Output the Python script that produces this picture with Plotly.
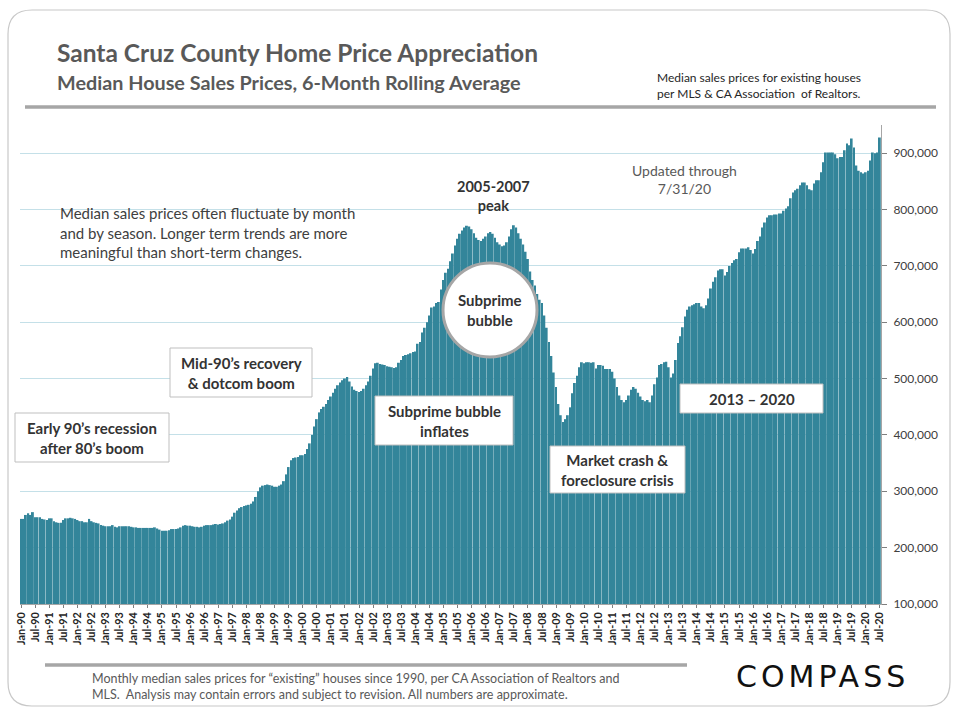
import plotly.graph_objects as go

# ---------------- data (monthly median, 6-month rolling average, USD thousands) ----------------
prices_1990s = [
    251, 251, 258, 261, 258, 263, 254, 254, 254, 251, 250, 249,   # 1990
    252, 252, 247, 245, 244, 244, 249, 252, 252, 253, 252, 251,   # 1991
    249, 247, 247, 245, 245, 251, 247, 245, 244, 243, 240, 239,   # 1992
    238, 238, 238, 240, 237, 236, 238, 238, 238, 238, 238, 237,   # 1993
    236, 236, 235, 235, 235, 235, 235, 235, 235, 236, 234, 232,   # 1994
    230, 230, 230, 231, 233, 233, 233, 234, 236, 239, 240, 239,   # 1995
    239, 238, 237, 237, 236, 237, 239, 240, 240, 240, 241, 242,   # 1996
    241, 242, 243, 245, 248, 250, 255, 262, 266, 270, 272, 274,   # 1997
    275, 276, 278, 282, 290, 300, 307, 310, 311, 312, 311, 310,   # 1998
    308, 308, 310, 312, 318, 330, 343, 355, 359, 360, 361, 364,   # 1999
]
prices_2000s = [
    364, 366, 375, 385, 400, 415, 428, 440, 446, 450, 455, 462,   # 2000
    468, 475, 482, 488, 493, 497, 500, 503, 495, 486, 480, 478,   # 2001
    476, 478, 482, 488, 495, 505, 518, 527, 528, 526, 525, 524,   # 2002
    522, 521, 520, 519, 520, 528, 533, 540, 542, 543, 545, 547,   # 2003
    548, 562, 565, 582, 590, 600, 612, 626, 628, 634, 636, 658,   # 2004
    675, 688, 695, 708, 722, 736, 748, 757, 763, 768, 771, 770,   # 2005
    765, 758, 750, 746, 744, 748, 752, 758, 760, 757, 750, 742,   # 2006
    738, 735, 736, 742, 752, 765, 772, 768, 758, 748, 738, 725,   # 2007
    712, 690, 675, 665, 650, 640, 634, 612, 590, 565, 540, 511,   # 2008
    485, 455, 435, 423, 428, 435, 449, 474, 492, 505, 520, 529,   # 2009
]
prices_2010s = [
    527, 529, 529, 528, 529, 518, 524, 524, 523, 517, 517, 517,   # 2010
    512, 500, 485, 470, 462, 458, 462, 470, 480, 485, 482, 475,   # 2011
    468, 462, 460, 462, 458, 470, 490, 502, 524, 526, 529, 530,   # 2012
    520, 502, 509, 533, 563, 575, 591, 610, 622, 628, 630, 632,   # 2013
    634, 634, 628, 625, 630, 642, 660, 672, 680, 692, 694, 694,   # 2014
    683, 689, 700, 705, 710, 712, 724, 731, 731, 731, 733, 728,   # 2015
    722, 730, 744, 752, 768, 777, 786, 790, 790, 791, 791, 793,   # 2016
    793, 798, 802, 806, 820, 830, 834, 837, 843, 848, 848, 843,   # 2017
    836, 834, 846, 852, 852, 866, 884, 901, 901, 901, 901, 898,   # 2018
    891, 893, 893, 905, 917, 914, 926, 910, 878, 869, 866, 864,   # 2019
]
prices_2020 = [866, 869, 887, 901, 900, 901, 928]

tick_labels = [
    "Jan-90", "Jul-90", "Jan-91", "Jul-91", "Jan-92", "Jul-92", "Jan-93", "Jul-93",
    "Jan-94", "Jul-94", "Jan-95", "Jul-95", "Jan-96", "Jul-96", "Jan-97", "Jul-97",
    "Jan-98", "Jul-98", "Jan-99", "Jul-99", "Jan-00", "Jul-00", "Jan-01", "Jul-01",
    "Jan-02", "Jul-02", "Jan-03", "Jul-03", "Jan-04", "Jul-04", "Jan-05", "Jul-05",
    "Jan-06", "Jul-06", "Jan-07", "Jul-07", "Jan-08", "Jul-08", "Jan-09", "Jul-09",
    "Jan-10", "Jul-10", "Jan-11", "Jul-11", "Jan-12", "Jul-12", "Jan-13", "Jul-13",
    "Jan-14", "Jul-14", "Jan-15", "Jul-15", "Jan-16", "Jul-16", "Jan-17", "Jul-17",
    "Jan-18", "Jul-18", "Jan-19", "Jul-19", "Jan-20", "Jul-20",
]
y_ticks = [100000, 200000, 300000, 400000, 500000, 600000, 700000, 800000, 900000]

values = [v * 1000 for v in prices_1990s + prices_2000s + prices_2010s + prices_2020]
months = list(range(len(values)))
tick_pos = months[::6]

# ---------------- layout helpers (pixel -> paper) ----------------
W, H = 960, 720
L, R, T, B = 20, 881, 125, 604


def px(x):
    return (x - L) / (R - L)


def py(y):
    return (B - y) / (B - T)


DARK = "#404040"
GRAY = "#595959"
FONT = "Lato"
BAR = "#33859a"

fig = go.Figure(go.Bar(
    x=months, y=values, marker=dict(color=BAR, line=dict(width=0)),
    hoverinfo="skip",
))

shapes = []
annotations = []


def note(x, y, text, size, color=DARK, bold=False, anchor="center", family=FONT):
    annotations.append(dict(
        xref="paper", yref="paper", x=px(x), y=py(y), text=text, showarrow=False,
        xanchor=anchor, yanchor="middle", align=anchor if anchor != "center" else "center",
        font=dict(family=family, size=size, color=color,
                  weight="bold" if bold else "normal")))


def rounded_rect(x0, y0, x1, y1, r):
    X0, X1 = px(x0), px(x1)
    Y0, Y1 = py(y0), py(y1)
    rx = r / (R - L)
    ry = r / (B - T)
    path = (f"M {X0 + rx},{Y0} L {X1 - rx},{Y0} Q {X1},{Y0} {X1},{Y0 - ry} "
            f"L {X1},{Y1 + ry} Q {X1},{Y1} {X1 - rx},{Y1} "
            f"L {X0 + rx},{Y1} Q {X0},{Y1} {X0},{Y1 + ry} "
            f"L {X0},{Y0 - ry} Q {X0},{Y0} {X0 + rx},{Y0} Z")
    return dict(type="path", xref="paper", yref="paper", path=path,
                line=dict(color="#c8c8c8", width=1.2), layer="below")


shapes.append(rounded_rect(8, 10, 950, 706, 24))

# top rule and bottom rule
shapes.append(dict(type="line", xref="paper", yref="paper", x0=px(25), x1=px(936),
                   y0=py(107), y1=py(107), line=dict(color="#a6a6a6", width=3.5)))
shapes.append(dict(type="line", xref="paper", yref="paper", x0=px(45), x1=px(687),
                   y0=py(665), y1=py(665), line=dict(color="#a6a6a6", width=3.5)))


def box(x0, y0, x1, y1, lines, size=15):
    shapes.append(dict(type="rect", xref="paper", yref="paper", x0=px(x0), x1=px(x1),
                       y0=py(y1), y1=py(y0), fillcolor="white",
                       line=dict(color="#bfbfbf", width=1), layer="above"))
    note((x0 + x1) / 2, (y0 + y1) / 2, "<br>".join(lines), size, color="#333333", bold=True)


box(170, 348, 312, 397, ["Mid-90\u2019s recovery", "& dotcom boom"])
box(15, 413, 169, 462, ["Early 90\u2019s recession", "after 80\u2019s boom"])
box(375, 396, 513, 445, ["Subprime bubble", "inflates"])
box(550, 446, 685, 493, ["Market crash &", "foreclosure crisis"])
box(680, 384, 823, 413, ["2013 \u2013 2020"])

# subprime circle
shapes.append(dict(type="circle", xref="paper", yref="paper", x0=px(443), x1=px(537),
                   y0=py(357), y1=py(263), fillcolor="white",
                   line=dict(color="#a6a6a6", width=3), layer="above"))
note(490, 310, "Subprime<br>bubble", 15, color="#333333", bold=True)

# peak label with white background
shapes.append(dict(type="rect", xref="paper", yref="paper", x0=px(440), x1=px(546),
                   y0=py(216), y1=py(176), fillcolor="white", line=dict(width=0),
                   layer="below"))
note(493, 196, "2005-2007<br>peak", 14.5, color="#333333", bold=True)

# text notes
note(58, 232, "Median sales prices often fluctuate by month<br>"
              "and by season. Longer term trends are more<br>"
              "meaningful than short-term changes.", 15, anchor="left")
note(684, 179, "Updated through<br>7/31/20", 14, color=GRAY)

# titles
note(55, 52, "Santa Cruz County Home Price Appreciation", 24.5, color=GRAY, bold=True, anchor="left")
note(55, 82, "Median House Sales Prices, 6-Month Rolling Average", 19.8, color=GRAY, bold=True,
     anchor="left")
note(655, 85, "Median sales prices for existing houses<br>"
              "per MLS & CA Association  of Realtors.", 12, color="#262626", anchor="left")

# footer
note(90, 686, "Monthly median sales prices for \u201cexisting\u201d houses since 1990, "
              "per CA Association of Realtors and<br>"
              "MLS.  Analysis may contain errors and subject to revision. "
              "All numbers are approximate.", 12.5, color=GRAY, anchor="left")
note(822, 676, "COMPASS", 30, color="#111111", family="DejaVu Sans")

fig.update_layout(
    width=W, height=H,
    margin=dict(l=L, r=W - R, t=T, b=H - B, pad=0),
    paper_bgcolor="white", plot_bgcolor="white",
    bargap=0.2, showlegend=False,
    shapes=shapes, annotations=annotations,
    xaxis=dict(
        range=[-0.5, len(values) - 0.5], tickmode="array", tickvals=tick_pos,
        ticktext=tick_labels, tickangle=-90, ticks="outside", ticklen=3,
        tickcolor="#7f7f7f", showline=True, linecolor="#a6a6a6", linewidth=1,
        showgrid=False, zeroline=False,
        tickfont=dict(family=FONT, size=10.8, color="#262626", weight="bold"),
    ),
    yaxis=dict(
        side="right", range=[100000, 950000], tickmode="array", tickvals=y_ticks,
        tickformat=",d", ticks="outside", ticklen=5, tickcolor="#7f7f7f",
        ticklabelstandoff=4,
        showline=True, linecolor="#a6a6a6", linewidth=1,
        showgrid=True, gridcolor="#c4e0e8", gridwidth=1, zeroline=False,
        tickfont=dict(family=FONT, size=12, color=DARK),
    ),
)

post = """
document.body.style.margin = '0';
document.body.style.padding = '0';
document.querySelectorAll('.annotation-text').forEach(function (t) {
  if (t.textContent === 'COMPASS') { t.style.letterSpacing = '4px'; }
});
"""
fig.write_html("out.html", post_script=post, config={"displayModeBar": False})
